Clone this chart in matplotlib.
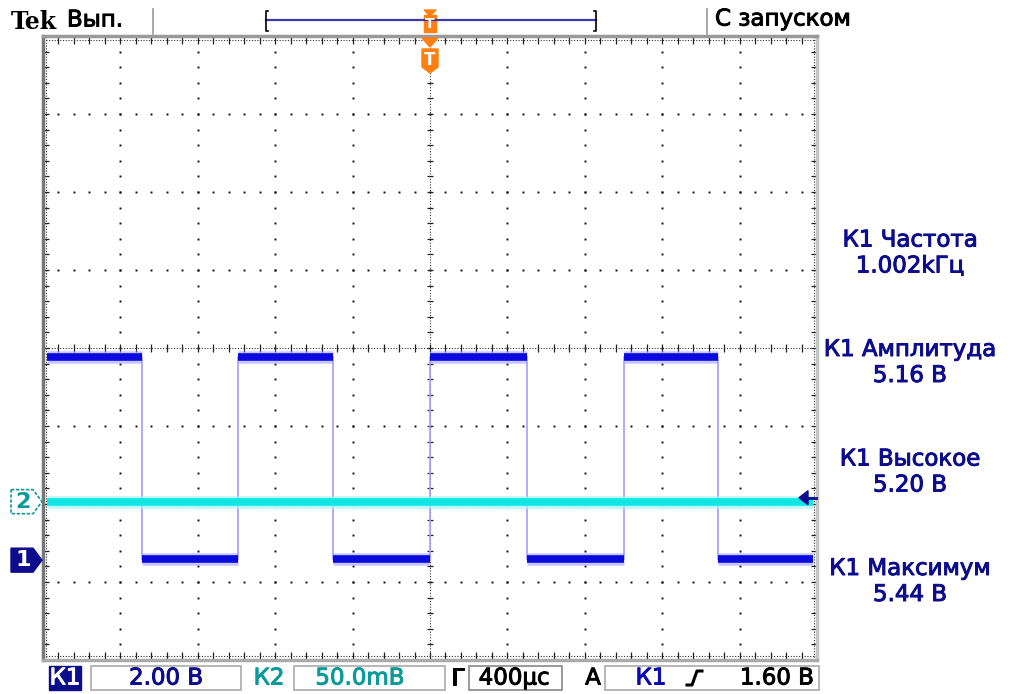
import matplotlib.pyplot as plt
import numpy as np
from matplotlib.patches import Polygon, Rectangle
import matplotlib.patheffects as pe

# scope settings
volts_per_div_ch1 = 2.0
mv_per_div_ch2 = 50.0
ms_per_div = 0.4
ch1_offset_div = -2.72      # ground marker of channel 1
ch2_offset_div = -1.97      # ground marker of channel 2
trigger_level = 1.60

# channel 1 square wave (times in ms, levels in V)
ch1_edges = [-2.0, -1.49, -0.99, -0.50, 0.0, 0.50, 1.0, 1.49, 2.0]
ch1_levels = [5.20, 0.04, 5.20, 0.04, 5.20, 0.04, 5.20, 0.04]

# channel 2 flat trace (mV)
ch2_times = [-2.0, 2.0]
ch2_values = [0.0, 0.0]

meas_names = ['К1 Частота', 'К1 Амплитуда', 'К1 Высокое', 'К1 Максимум']
meas_values = ['1.002kГц', '5.16 В', '5.20 В', '5.44 В']

W, H = 1011, 694
fig = plt.figure(figsize=(W / 100, H / 100), dpi=100)
fig.patch.set_facecolor('white')

gl, gr, gt, gb = 43, 817, 36, 660
ax = fig.add_axes([gl / W, (H - gb) / H, (gr - gl) / W, (gb - gt) / H])
ax.set_xlim(-5, 5)
ax.set_ylim(-4, 4)
ax.set_xticks([])
ax.set_yticks([])
for side in ['left', 'top', 'bottom', 'right']:
    ax.spines[side].set_linewidth(2.5)
ax.spines['left'].set_color('#777777')
ax.spines['top'].set_color('#999999')
ax.spines['bottom'].set_color('#aaaaaa')
ax.spines['right'].set_color('#c4c4c4')

# graticule dots
fine_x = np.arange(-5, 5.001, 0.2)
fine_y = np.arange(-4, 4.001, 0.2)
for gx in range(-4, 5):
    if gx == 0:
        continue
    ax.plot(np.full(len(fine_y), gx), fine_y, 's', ms=1.4, color='#111111', mew=0)
for gy in range(-3, 4):
    if gy == 0:
        continue
    ax.plot(fine_x, np.full(len(fine_x), gy), 's', ms=1.4, color='#111111', mew=0)

# centre cross and edges with ticks
dot = dict(color='#333333', lw=0.8, ls=(0, (1, 1.5)))
ax.plot([-5, 5], [0, 0], **dot)
ax.plot([0, 0], [-4, 4], **dot)
ax.plot([-5, 5], [3.95, 3.95], **dot)
ax.plot([-5, 5], [-3.95, -3.95], **dot)
ax.plot([-4.96, -4.96], [-4, 4], **dot)
ax.plot([4.96, 4.96], [-4, 4], **dot)
tk = dict(color='#222222', lw=0.9)
ax.vlines(fine_x, -0.05, 0.05, **tk)
ax.hlines(fine_y, -0.04, 0.04, **tk)
ax.vlines(fine_x, 3.9, 4, **tk)
ax.vlines(fine_x, -4, -3.9, **tk)
ax.hlines(fine_y, -5, -4.92, **tk)
ax.hlines(fine_y, 4.92, 5, **tk)

# channel 1 trace
t_div = [t / ms_per_div for t in ch1_edges]
v_div = [v / volts_per_div_ch1 + ch1_offset_div for v in ch1_levels]
x0, x1 = -4.95, 4.95
for i in range(len(ch1_levels)):
    a = max(t_div[i], x0)
    b = min(t_div[i + 1], x1)
    ax.plot([a, b], [v_div[i], v_div[i]], color='#9a9aff', lw=9, alpha=0.55,
            solid_capstyle='butt', zorder=3)
    ax.plot([a, b], [v_div[i], v_div[i]], color='#0a0ae0', lw=5.5,
            solid_capstyle='butt', zorder=4)
for i in range(1, len(ch1_levels)):
    ax.plot([t_div[i], t_div[i]], [v_div[i - 1], v_div[i]], color='#a0a0ff',
            lw=1.2, zorder=3)

# channel 2 trace
c2x = [max(min(t / ms_per_div, x1), x0) for t in ch2_times]
c2y = [v / mv_per_div_ch2 + ch2_offset_div for v in ch2_values]
ax.plot(c2x, c2y, color='#a0f8f8', lw=9, alpha=0.7, solid_capstyle='butt', zorder=3)
ax.plot(c2x, c2y, color='#10e6e6', lw=5.5, solid_capstyle='butt', zorder=4)

# overlay in pixel coordinates
ov = fig.add_axes([0, 0, 1, 1], zorder=5)
ov.set_xlim(0, W)
ov.set_ylim(H, 0)
ov.axis('off')
ov.patch.set_alpha(0)

navy = '#0c0c8c'
teal = '#0a9a9a'
orange = '#ff7f10'
fs = 16.5


def thick(c):
    return [pe.withStroke(linewidth=0.7, foreground=c)]


ov.text(11, 22, 'Tek', fontsize=17, fontweight='bold', family='DejaVu Serif',
        va='center', ha='left', color='black')
ov.text(67, 20, 'Вып.', fontsize=fs, va='center', ha='left', color='black',
        path_effects=thick('black'))
ov.plot([153, 153], [9, 34], color='#999999', lw=1.2)
ov.plot([707, 707], [9, 34], color='#999999', lw=1.2)
ov.text(715, 19, 'С запуском', fontsize=fs, va='center', ha='left', color='black',
        path_effects=thick('black'))

# record window bar
ov.plot([266, 596], [20, 20], color='#3a3ab0', lw=1.6)
ov.plot([268, 266, 266, 268], [11, 11, 31, 31], color='black', lw=1.2)
ov.plot([594, 596, 596, 594], [11, 11, 31, 31], color='black', lw=1.2)

# trigger position markers
tx = gl + (gr - gl) / 2
ov.add_patch(Polygon([[tx - 6, 10], [tx + 6, 10], [tx, 16]], color=orange))
ov.add_patch(Rectangle((tx - 6, 15), 12, 17, color=orange))
ov.text(tx, 24, 'T', fontsize=10, fontweight='bold', color='white', ha='center', va='center')
ov.add_patch(Polygon([[tx - 8, 38], [tx + 8, 38], [tx, 47]], color=orange))
ov.add_patch(Polygon([[tx - 8, 49], [tx + 8, 49], [tx + 8, 67], [tx, 73], [tx - 8, 67]],
                     color=orange))
ov.text(tx, 60, 'T', fontsize=12, fontweight='bold', color='white', ha='center', va='center')

# channel ground markers
div_px = (gb - gt) / 8
y2 = gt + (4 - ch2_offset_div) * div_px
y1 = gt + (4 - ch1_offset_div) * div_px
ov.add_patch(Polygon([[11, y2 - 12], [33, y2 - 12], [42, y2], [33, y2 + 12], [11, y2 + 12]],
                     facecolor='white', edgecolor=teal, lw=1.2, ls=(0, (2, 1))))
ov.text(23, y2, '2', fontsize=16, color=teal, ha='center', va='center', fontweight='bold')
ov.add_patch(Polygon([[11, y1 - 12], [33, y1 - 12], [42, y1], [33, y1 + 12], [11, y1 + 12]],
                     facecolor=navy, edgecolor=navy))
ov.text(23, y1, '1', fontsize=16, color='white', ha='center', va='center', fontweight='bold')

# trigger level arrow on the right
yt = gt + (4 - (trigger_level / volts_per_div_ch1 + ch1_offset_div)) * div_px
ov.add_patch(Polygon([[799, yt], [808, yt - 7], [808, yt + 7]], color=navy))
ov.plot([806, 816], [yt, yt], color=navy, lw=2)

# measurements
for i in range(len(meas_names)):
    yc = 240 + i * 109.5
    ov.text(910, yc, meas_names[i], fontsize=fs, color=navy, ha='center', va='center',
            path_effects=thick(navy))
    ov.text(910, yc + 26, meas_values[i], fontsize=fs, color=navy, ha='center', va='center',
            path_effects=thick(navy))

# bottom status bar
by0, by1 = 666, 690
bm = (by0 + by1) / 2
ov.add_patch(Rectangle((49, by0), 32, by1 - by0, color=navy))
ov.text(65, bm, 'К1', fontsize=fs, color='white', ha='center', va='center',
        path_effects=thick('white'))
ov.add_patch(Rectangle((91, by0), 150, by1 - by0, fill=False, edgecolor='#aaaaaa', lw=1.2))
ov.text(166, bm, '2.00 В', fontsize=fs, color=navy, ha='center', va='center',
        path_effects=thick(navy))
ov.text(269, bm, 'К2', fontsize=fs, color=teal, ha='center', va='center',
        path_effects=thick(teal))
ov.add_patch(Rectangle((294, by0), 151, by1 - by0, fill=False, edgecolor='#aaaaaa', lw=1.2))
ov.text(360, bm, '50.0mВ', fontsize=fs, color=teal, ha='center', va='center',
        path_effects=thick(teal))
ov.text(458, bm, 'Г', fontsize=fs, color='black', ha='center', va='center',
        path_effects=thick('black'))
ov.add_patch(Rectangle((469, by0), 93, by1 - by0, fill=False, edgecolor='#888888', lw=1.2))
ov.text(514, bm, '400µс', fontsize=fs, color='black', ha='center', va='center',
        path_effects=thick('black'))
ov.text(593, bm, 'А', fontsize=fs, color='black', ha='center', va='center',
        path_effects=thick('black'))
ov.add_patch(Rectangle((605, by0), 214, by1 - by0, fill=False, edgecolor='#aaaaaa', lw=1.2))
ov.text(651, bm, 'К1', fontsize=fs, color='#0a0ab0', ha='center', va='center',
        path_effects=thick('#0a0ab0'))
ov.plot([687, 692, 697, 702], [bm + 7, bm + 7, bm - 7, bm - 7], color='black', lw=2.2)
ov.text(814, bm, '1.60 В', fontsize=fs, color='black', ha='right', va='center',
        path_effects=thick('black'))

fig.savefig('out.png', dpi=100)
